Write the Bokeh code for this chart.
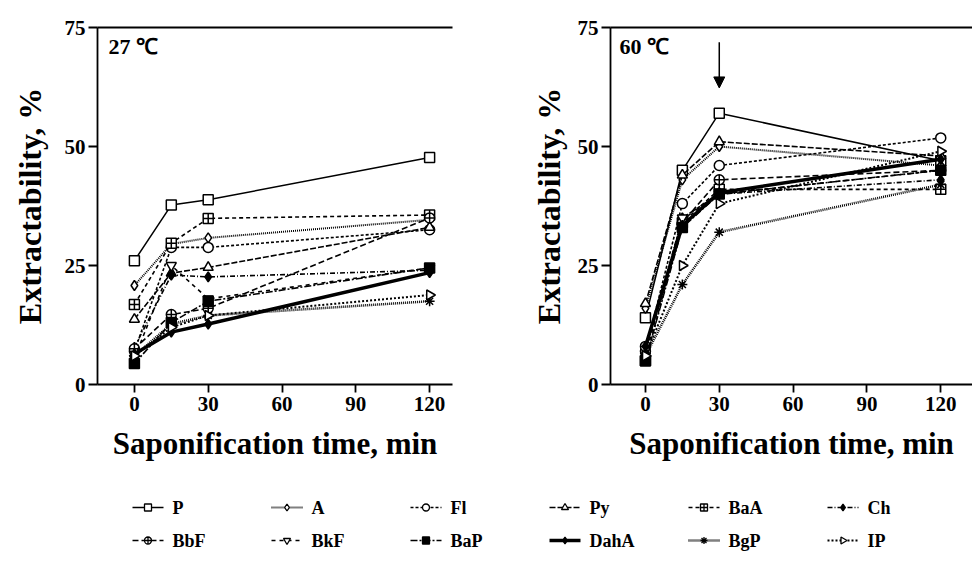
import math
from bokeh.plotting import figure
from bokeh.layouts import column, row
from bokeh.models import (LinearAxis, FixedTicker, Range1d, Label, Arrow, NormalHead,
                          ColumnDataSource)
from bokeh.core.properties import value
from bokeh.embed import file_html
from bokeh.resources import INLINE

# ---------------- data ----------------
time_min = [0, 15, 30, 120]
compounds = ["P", "A", "Fl", "Py", "BaA", "Ch", "BbF", "BkF", "BaP", "DahA", "BgP", "IP"]
x_ticks = [0, 30, 60, 90, 120]
y_ticks = [0, 25, 50, 75]
y_title = "Extractability, %"
x_title = "Saponification time, min"

# 27 degC
P_27 = [26.0, 37.7, 38.8, 47.7]
A_27 = [20.8, 29.5, 30.8, 34.6]
Fl_27 = [7.0, 28.8, 28.8, 32.5]
Py_27 = [13.7, 23.4, 24.6, 33.0]
BaA_27 = [16.8, 29.7, 34.9, 35.6]
Ch_27 = [7.8, 23.0, 22.6, 24.0]
BbF_27 = [7.5, 14.7, 16.0, 35.0]
BkF_27 = [5.5, 25.0, 18.0, 24.5]
BaP_27 = [4.4, 13.0, 17.5, 24.5]
DahA_27 = [6.4, 11.0, 12.7, 23.5]
BgP_27 = [6.0, 12.7, 14.5, 17.5]
IP_27 = [6.0, 12.0, 14.5, 18.8]

# 60 degC
P_60 = [14.0, 45.0, 57.0, 47.0]
A_60 = [16.0, 43.0, 50.0, 46.0]
Fl_60 = [7.0, 38.0, 46.0, 51.8]
Py_60 = [17.0, 44.0, 51.0, 48.0]
BaA_60 = [5.0, 34.0, 41.0, 41.0]
Ch_60 = [7.0, 35.0, 40.0, 43.0]
BbF_60 = [8.0, 34.0, 43.0, 45.0]
BkF_60 = [6.0, 35.0, 40.0, 45.0]
BaP_60 = [5.0, 33.0, 40.0, 45.0]
DahA_60 = [8.0, 33.4, 40.3, 47.3]
BgP_60 = [6.0, 21.0, 32.0, 42.0]
IP_60 = [6.0, 25.0, 38.0, 49.0]

series_27 = [P_27, A_27, Fl_27, Py_27, BaA_27, Ch_27, BbF_27, BkF_27, BaP_27, DahA_27, BgP_27, IP_27]
series_60 = [P_60, A_60, Fl_60, Py_60, BaA_60, Ch_60, BbF_60, BkF_60, BaP_60, DahA_60, BgP_60, IP_60]

# ---------------- styles ----------------
FONT = "Liberation Serif"
W, B = "white", "black"
PANEL_H = 478
# (dash, line width, marker, fill, angle)
styles = {
    "P":    ("solid",      1.5, "square",            W, 0.0),
    "A":    ("1 1",        2.0, "diamond",           W, 0.0),
    "Fl":   ("3 2",        1.6, "circle",            W, 0.0),
    "Py":   ("6 2",        1.6, "triangle",          W, 0.0),
    "BaA":  ("4 3",        1.6, "square_cross",      W, 0.0),
    "Ch":   ("5 2 1 2",    1.6, "diamond",           B, 0.0),
    "BbF":  ("6 3",        1.6, "circle_cross",      W, 0.0),
    "BkF":  ("4 4",        1.6, "inverted_triangle", W, 0.0),
    "BaP":  ("7 2 2 2",    1.6, "square",            B, 0.0),
    "DahA": ("solid",      3.5, "diamond",           B, 0.0),
    "BgP":  ("1 1",        2.5, "asterisk",          B, 0.0),
    "IP":   ("2 2",        2.0, "triangle",          W, -math.pi / 2),
}


def style_axis(ax, label_size, size="21px"):
    ax.axis_line_width = 1.8
    ax.major_tick_line_width = 1.8
    ax.minor_tick_line_color = None
    ax.major_tick_in = 0
    ax.major_label_text_font = FONT
    ax.major_label_text_font_style = "bold"
    ax.major_label_text_font_size = size
    ax.major_label_text_color = "black"
    ax.axis_label_text_font = FONT
    ax.axis_label_text_font_style = "bold"
    ax.axis_label_text_font_size = label_size
    ax.axis_label_text_color = "black"


def make_panel(series, label_text, width, x_start, x_end, bl, br, bt, bb, ylab_standoff,
               arrow=None):
    p = figure(width=width, height=PANEL_H, x_range=Range1d(x_start, x_end), y_range=Range1d(0, 75),
               output_backend="svg", toolbar_location=None,
               min_border_left=bl, min_border_right=br, min_border_top=bt, min_border_bottom=bb)
    p.grid.visible = False
    p.outline_line_color = None
    p.background_fill_color = "white"
    p.border_fill_color = "white"

    style_axis(p.xaxis[0], "31px")
    p.xaxis.ticker = FixedTicker(ticks=x_ticks)
    p.xaxis.major_tick_out = 8
    p.xaxis.major_label_standoff = 4
    p.xaxis.axis_label = x_title
    p.xaxis.axis_label_standoff = 12

    style_axis(p.yaxis[0], "32px")
    p.yaxis.ticker = FixedTicker(ticks=y_ticks)
    p.yaxis.major_tick_out = 9
    p.yaxis.major_label_standoff = 3
    p.yaxis.axis_label = y_title
    p.yaxis.axis_label_standoff = ylab_standoff

    top = LinearAxis(ticker=FixedTicker(ticks=[]), major_label_text_font_size="0px",
                     axis_line_width=1.8, major_tick_line_color=None, minor_tick_line_color=None,
                     major_tick_out=0, major_label_standoff=0)
    p.add_layout(top, "above")

    for name, vals in zip(compounds, series):
        dash, lw, marker, fill, ang = styles[name]
        src = ColumnDataSource(data=dict(t=time_min, v=vals))
        p.line("t", "v", source=src, line_color="black", line_width=lw, line_dash=dash)
        p.scatter("t", "v", source=src, marker=marker, size=10, angle=ang,
                  line_color="black", line_width=1.5, fill_color=fill)

    p.add_layout(Label(x=-10.5, y=71.0, text=label_text, text_font=FONT, text_font_style="bold",
                       text_font_size="22px", text_baseline="middle", text_color="black"))
    if arrow is not None:
        ax_, y0, y1 = arrow
        p.add_layout(Arrow(x_start=ax_, y_start=y0, x_end=ax_, y_end=y1, line_width=1.5,
                           end=NormalHead(size=11, fill_color="black", line_color="black")))
    return p


p1 = make_panel(series_27, "27 \u2103", 526, -15.0, 129.3, 97, 74, 25, 94, 14)
p2 = make_panel(series_60, "60 \u2103", 446, -14.2, 132.9, 84, 0, 27, 91, 8,
                arrow=(30, 71.9, 62.3))

# ---------------- legend (key panel in pixel-like units) ----------------
LEG_W, LEG_H = 972, 83
leg = figure(width=LEG_W, height=LEG_H, x_range=Range1d(0, LEG_W), y_range=Range1d(0, LEG_H),
             output_backend="svg", toolbar_location=None, min_border=0)
leg.axis.visible = False
leg.grid.visible = False
leg.outline_line_color = None

KEY_X0, KEY_DX = 132, 139      # first key column and column pitch
KEY_ROW_Y = [54, 21]           # row centres (from bottom of key panel)
KEY_LEN, KEY_GAP = 31, 9

for i, name in enumerate(compounds):
    dash, lw, marker, fill, ang = styles[name]
    col, rw = i % 6, i // 6
    x0 = KEY_X0 + KEY_DX * col
    y0 = KEY_ROW_Y[rw]
    src = ColumnDataSource(data=dict(xa=[x0], xb=[x0 + KEY_LEN], xm=[x0 + KEY_LEN / 2],
                                     xt=[x0 + KEY_LEN + KEY_GAP], y=[y0], label=[name]))
    leg.segment("xa", "y", "xb", "y", source=src, line_color="black", line_width=lw,
                line_dash=dash)
    leg.scatter("xm", "y", source=src, marker=marker, size=7, angle=ang,
                line_color="black", line_width=1.3, fill_color=fill)
    leg.text("xt", "y", text="label", source=src, text_font=value(FONT),
             text_font_style="bold", text_font_size="18px", text_baseline="middle",
             text_color="black")

layout = column(row(p1, p2), leg)
open("out.html", "w").write(file_html(layout, INLINE))
